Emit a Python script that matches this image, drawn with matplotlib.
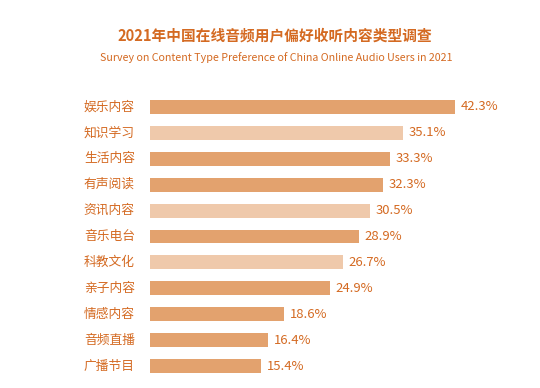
import matplotlib
matplotlib.use('Agg')
from matplotlib import pyplot as plt

plt.rcParams['font.family'] = ['Noto Sans CJK SC', 'DejaVu Sans']

# data
categories = ['娱乐内容', '知识学习', '生活内容', '有声阅读', '资讯内容', '音乐电台',
              '科教文化', '亲子内容', '情感内容', '音频直播', '广播节目']
values = [42.3, 35.1, 33.3, 32.3, 30.5, 28.9, 26.7, 24.9, 18.6, 16.4, 15.4]
highlight = [False, True, False, False, True, False, True, False, False, False, False]

dark = '#E3A26E'
light = '#EFC9AB'
txt = '#D46A22'

fig = plt.figure(figsize=(5.4, 3.88), dpi=100)
ax = fig.add_axes([150/540, 1-379/388, 390/540, 285/388])

colors = [light if h else dark for h in highlight]
ax.barh(range(len(values)), values, height=0.54, color=colors)

for i, v in enumerate(values):
    ax.text(v + 0.75, i, '%.1f%%' % v, va='center', ha='left', fontsize=9.4, color=txt)
for i, c in enumerate(categories):
    ax.text(-2.1, i, c, va='center', ha='right', fontsize=9.2, color=txt)

ax.set_xlim(0, 390/7.22)
ax.set_ylim(len(values) - 0.5, -0.5)
ax.axis('off')

fig.text(275/540, 1-35/388, '2021年中国在线音频用户偏好收听内容类型调查', ha='center', va='center',
         fontsize=10.6, fontweight='bold', color=txt)
fig.text(276/540, 1-58/388, 'Survey on Content Type Preference of China Online Audio Users in 2021',
         ha='center', va='center', fontsize=7.7, color=txt)

fig.savefig('out.png', dpi=100)
